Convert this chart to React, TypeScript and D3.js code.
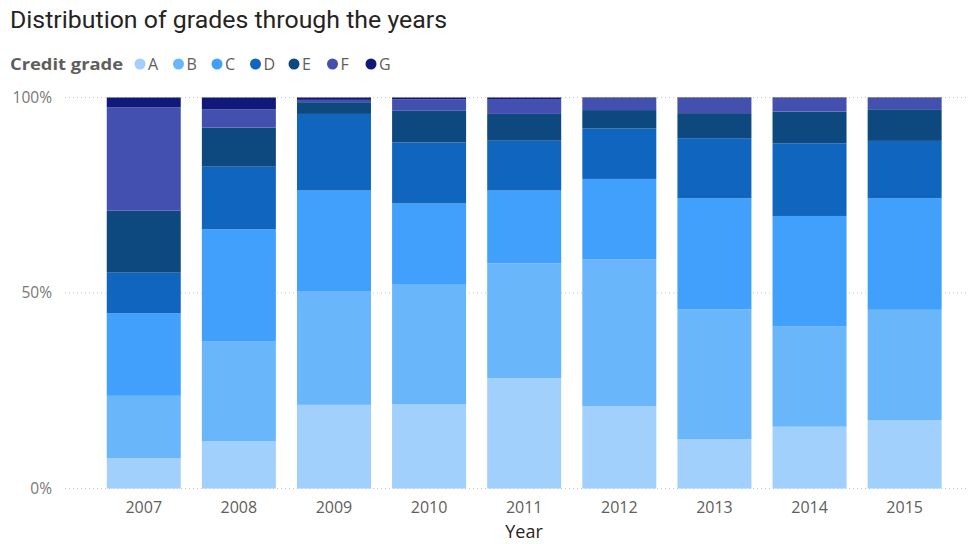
import React from "react";
import * as d3 from "d3";

const years = ["2007", "2008", "2009", "2010", "2011", "2012", "2013", "2014", "2015"];
const grades = ["A", "B", "C", "D", "E", "F", "G"];
const gradeColors = ["#a0d0fb", "#6ab6fb", "#40a0fc", "#1066bf", "#0d487e", "#4450b0", "#10197a"];

// share (%) of each grade per year
const gradeA = [7.7, 12.1, 21.4, 21.6, 28.2, 20.9, 12.6, 15.8, 17.5];
const gradeB = [16.0, 25.6, 29.1, 30.7, 29.4, 37.3, 33.2, 25.6, 28.2];
const gradeC = [21.1, 28.6, 25.7, 20.6, 18.6, 20.5, 28.4, 28.3, 28.5];
const gradeD = [10.4, 16.0, 19.6, 15.6, 12.75, 12.8, 15.4, 18.6, 14.7];
const gradeE = [15.85, 10.0, 3.0, 8.1, 6.85, 4.7, 6.4, 8.1, 8.1];
const gradeF = [26.45, 4.7, 0.6, 2.9, 3.8, 2.9, 3.7, 3.3, 2.7];
const gradeG = [2.5, 3.0, 0.6, 0.5, 0.4, 0.3, 0.3, 0.3, 0.3];

const yTicks = [0, 0.5, 1];
const yTickLabels = ["0%", "50%", "100%"];

const W = 968;
const H = 544;

export default function App() {
  const series = [gradeA, gradeB, gradeC, gradeD, gradeE, gradeF, gradeG];
  const rows = years.map((y, i) => {
    const total = series.reduce((s, arr) => s + arr[i], 0);
    const r: any = { year: y };
    grades.forEach((g, k) => (r[g] = series[k][i] / total));
    return r;
  });
  const stacked = d3.stack().keys(grades)(rows);

  const x = d3.scaleBand().domain(years).range([96.2, 952.2]).paddingInner(0.222).paddingOuter(0.111);
  const y = d3.scaleLinear().domain([0, 1]).range([488.5, 97.5]);
  const color = d3.scaleOrdinal<string, string>().domain(grades).range(gradeColors);

  const legendX0 = 140;
  const legendStep = 38.5;

  return (
    <svg width={W} height={H} style={{ position: "absolute", left: 0, top: 0, background: "#fff" }}
      fontFamily="'Open Sans', 'Segoe UI', sans-serif">
      <text x={10} y={28} fontSize={23} fill="#252423" fontFamily="Roboto, sans-serif"
        textLength={437} lengthAdjust="spacingAndGlyphs">
        Distribution of grades through the years
      </text>
      <text x={10} y={70} fontSize={16} fontWeight="bold" fill="#605e5c"
        textLength={113} lengthAdjust="spacingAndGlyphs">Credit grade</text>
      {grades.map((g, i) => (
        <g key={g} transform={`translate(${legendX0 + i * legendStep},64)`}>
          <circle cx={0} cy={0} r={5.5} fill={color(g)} />
          <text x={8} y={6} fontSize={16} fill="#605e5c">{g}</text>
        </g>
      ))}
      {yTicks.map((t, i) => (
        <g key={t}>
          <line x1={65} x2={966} y1={y(t)} y2={y(t)} stroke="#c8c8c8" strokeDasharray="1,3" />
          <text x={52} y={y(t) + 5} textAnchor="end" fontSize={15.5} fill="#777">{yTickLabels[i]}</text>
        </g>
      ))}
      {stacked.map((s) => (
        <g key={s.key} fill={color(s.key)}>
          {s.map((d: any) => (
            <rect key={d.data.year} x={x(d.data.year)} width={x.bandwidth()}
              y={y(d[1])} height={Math.max(0, y(d[0]) - y(d[1]))} />
          ))}
        </g>
      ))}
      {years.map((yr) => (
        <text key={yr} x={(x(yr) as number) + x.bandwidth() / 2} y={513} textAnchor="middle" fontSize={16} fill="#605e5c">
          {yr}
        </text>
      ))}
      <text x={524} y={538} textAnchor="middle" fontSize={18} fill="#252423">Year</text>
    </svg>
  );
}
